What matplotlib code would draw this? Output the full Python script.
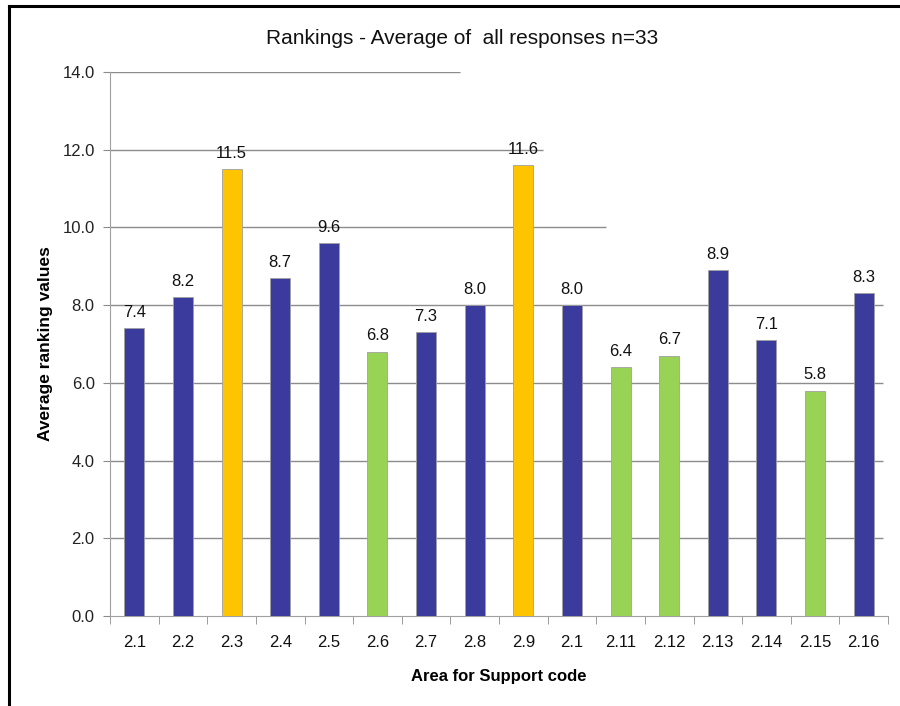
import matplotlib
matplotlib.use("Agg")
import matplotlib.pyplot as plt
from matplotlib.lines import Line2D

categories = ["2.1", "2.2", "2.3", "2.4", "2.5", "2.6", "2.7", "2.8",
              "2.9", "2.1", "2.11", "2.12", "2.13", "2.14", "2.15", "2.16"]
values = [7.4, 8.2, 11.5, 8.7, 9.6, 6.8, 7.3, 8.0,
          11.6, 8.0, 6.4, 6.7, 8.9, 7.1, 5.8, 8.3]
groups = ["b", "b", "y", "b", "b", "g", "b", "b",
          "y", "b", "g", "g", "b", "b", "g", "b"]
palette = {"b": "#3B3B9D", "y": "#FFC400", "g": "#99D356"}
yticks = [0, 2, 4, 6, 8, 10, 12, 14]

plt.rcParams['font.family'] = ['Liberation Sans', 'DejaVu Sans']

fig = plt.figure(figsize=(9, 7.06), dpi=100)
ax = fig.add_axes([110/900, 1-616/706, (888-110)/900, (616-72)/706])

x = list(range(len(values)))
ax.bar(x, values, width=0.41, color=[palette[g] for g in groups],
       edgecolor="#A0A0A0", linewidth=0.6, zorder=3)

for xi, v in zip(x, values):
    ax.annotate(f"{v:.1f}", (xi, v), xytext=(0, 6), textcoords="offset points",
                ha="center", va="bottom", fontsize=12, color="#111111", zorder=4)

ax.set_xlim(-0.5, len(values) - 0.5)
ax.set_ylim(0, 14)

# gridlines (partially drawn as in the reference)
grid_ends = {14: 6.7, 12: 8.4, 10: 9.7}
for t in yticks[1:]:
    xend = grid_ends.get(t, len(values) - 0.6)
    ax.hlines(t, -0.5, xend, color="#8C8C8C", linewidth=1.0, zorder=1)

ax.set_yticks(yticks)
ax.set_yticklabels([f"{t:.1f}" for t in yticks], fontsize=12, color="#222222")
ax.set_xticks(x)
ax.set_xticklabels(categories, fontsize=12, color="#111111")
ax.tick_params(axis="x", length=0, pad=14)
ax.tick_params(axis="y", direction="out", length=5, color="#8C8C8C", pad=6)

# minor ticks at category boundaries on x
ax.set_xticks([i - 0.5 for i in range(len(values) + 1)], minor=True)
ax.tick_params(axis="x", which="minor", direction="out", length=6, color="#8C8C8C")

for s in ["top", "right"]:
    ax.spines[s].set_visible(False)
ax.spines["left"].set_color("#A0A0A0")
ax.spines["bottom"].set_color("#A0A0A0")

ax.set_xlabel("Area for Support code", fontsize=12, fontweight="bold", labelpad=13)
ax.set_ylabel("Average ranking values", fontsize=12.5, fontweight="bold", labelpad=7)

fig.text(462/900, 1-38/706, "Rankings - Average of  all responses n=33",
         ha="center", va="center", fontsize=15, color="#111111")

# outer border lines (left and top)
fig.add_artist(Line2D([9/900, 9/900], [0, 1-6/706], transform=fig.transFigure,
                      color="black", linewidth=2.2))
fig.add_artist(Line2D([9/900, 1], [1-6/706, 1-6/706], transform=fig.transFigure,
                      color="black", linewidth=2.2))

fig.savefig("out.png", dpi=100)
